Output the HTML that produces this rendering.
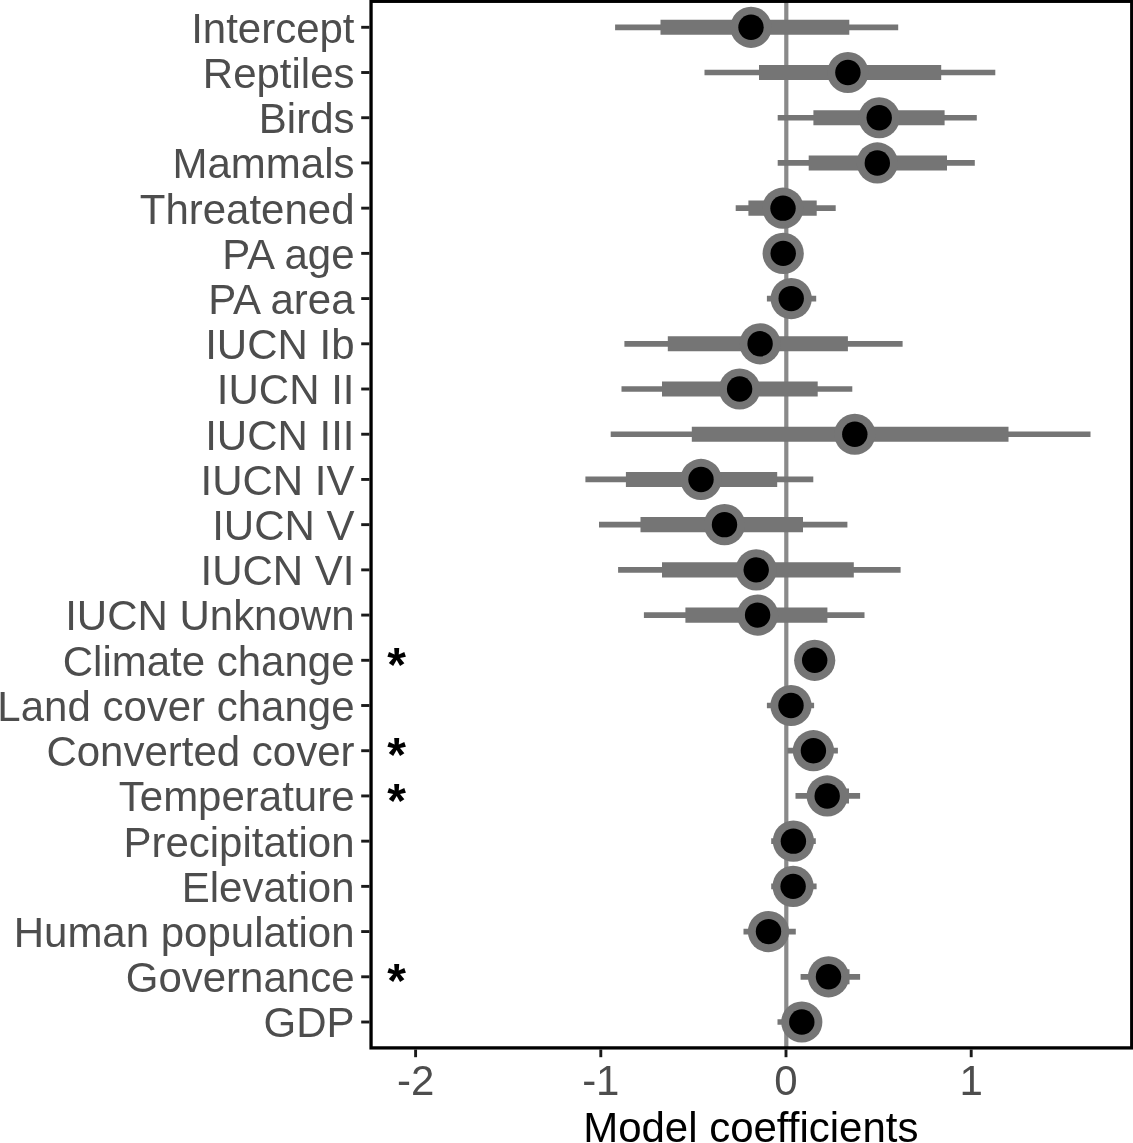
<!DOCTYPE html>
<html><head><meta charset="utf-8"><title>Model coefficients</title>
<style>
html,body{margin:0;padding:0;background:#fff;}
svg{display:block;}
text{font-family:"Liberation Sans",Arial,sans-serif;}
.yl{font-size:42px;fill:#4d4d4d;text-anchor:end;}
.xl{font-size:42px;fill:#4d4d4d;text-anchor:middle;}
.ttl{font-size:42px;fill:#000;text-anchor:middle;}
.star{font-size:48px;font-weight:bold;fill:#000;text-anchor:middle;}
</style></head><body>
<svg width="1133" height="1143" viewBox="0 0 1133 1143">
<rect x="0" y="0" width="1133" height="1143" fill="#fff"/>
<line x1="786.3" y1="1" x2="786.3" y2="1048" stroke="#8a8a8a" stroke-width="4.2"/>
<line x1="615.1" y1="27.30" x2="898.2" y2="27.30" stroke="#757575" stroke-width="5.7"/>
<line x1="660.5" y1="27.30" x2="849.3" y2="27.30" stroke="#757575" stroke-width="15.1"/>
<circle cx="751.0" cy="27.30" r="20.6" fill="#757575"/><circle cx="751.0" cy="27.30" r="12.7" fill="#000"/>
<line x1="704.5" y1="72.51" x2="995.3" y2="72.51" stroke="#757575" stroke-width="5.7"/>
<line x1="759.0" y1="72.51" x2="941.2" y2="72.51" stroke="#757575" stroke-width="15.1"/>
<circle cx="847.9" cy="72.51" r="20.6" fill="#757575"/><circle cx="847.9" cy="72.51" r="12.7" fill="#000"/>
<line x1="777.7" y1="117.73" x2="976.8" y2="117.73" stroke="#757575" stroke-width="5.7"/>
<line x1="813.4" y1="117.73" x2="944.6" y2="117.73" stroke="#757575" stroke-width="15.1"/>
<circle cx="879.2" cy="117.73" r="20.6" fill="#757575"/><circle cx="879.2" cy="117.73" r="12.7" fill="#000"/>
<line x1="777.7" y1="162.94" x2="974.8" y2="162.94" stroke="#757575" stroke-width="5.7"/>
<line x1="808.7" y1="162.94" x2="947" y2="162.94" stroke="#757575" stroke-width="15.1"/>
<circle cx="877.3" cy="162.94" r="20.6" fill="#757575"/><circle cx="877.3" cy="162.94" r="12.7" fill="#000"/>
<line x1="735.7" y1="208.16" x2="835.7" y2="208.16" stroke="#757575" stroke-width="5.7"/>
<line x1="748.4" y1="208.16" x2="816.7" y2="208.16" stroke="#757575" stroke-width="15.1"/>
<circle cx="783.0" cy="208.16" r="20.6" fill="#757575"/><circle cx="783.0" cy="208.16" r="12.7" fill="#000"/>
<circle cx="783.2" cy="253.37" r="20.6" fill="#757575"/><circle cx="783.2" cy="253.37" r="12.7" fill="#000"/>
<line x1="766.9" y1="298.58" x2="816.2" y2="298.58" stroke="#757575" stroke-width="5.7"/>
<circle cx="791.2" cy="298.58" r="20.6" fill="#757575"/><circle cx="791.2" cy="298.58" r="12.7" fill="#000"/>
<line x1="624.4" y1="343.80" x2="902.6" y2="343.80" stroke="#757575" stroke-width="5.7"/>
<line x1="667.8" y1="343.80" x2="847.9" y2="343.80" stroke="#757575" stroke-width="15.1"/>
<circle cx="760.1" cy="343.80" r="20.6" fill="#757575"/><circle cx="760.1" cy="343.80" r="12.7" fill="#000"/>
<line x1="621.5" y1="389.01" x2="852.3" y2="389.01" stroke="#757575" stroke-width="5.7"/>
<line x1="662" y1="389.01" x2="817.7" y2="389.01" stroke="#757575" stroke-width="15.1"/>
<circle cx="739.6" cy="389.01" r="20.6" fill="#757575"/><circle cx="739.6" cy="389.01" r="12.7" fill="#000"/>
<line x1="610.7" y1="434.23" x2="1090.5" y2="434.23" stroke="#757575" stroke-width="5.7"/>
<line x1="691.8" y1="434.23" x2="1008.5" y2="434.23" stroke="#757575" stroke-width="15.1"/>
<circle cx="854.8" cy="434.23" r="20.6" fill="#757575"/><circle cx="854.8" cy="434.23" r="12.7" fill="#000"/>
<line x1="585.4" y1="479.44" x2="813.3" y2="479.44" stroke="#757575" stroke-width="5.7"/>
<line x1="625.9" y1="479.44" x2="777.2" y2="479.44" stroke="#757575" stroke-width="15.1"/>
<circle cx="701" cy="479.44" r="20.6" fill="#757575"/><circle cx="701" cy="479.44" r="12.7" fill="#000"/>
<line x1="599" y1="524.65" x2="847.4" y2="524.65" stroke="#757575" stroke-width="5.7"/>
<line x1="640.5" y1="524.65" x2="803" y2="524.65" stroke="#757575" stroke-width="15.1"/>
<circle cx="724.5" cy="524.65" r="20.6" fill="#757575"/><circle cx="724.5" cy="524.65" r="12.7" fill="#000"/>
<line x1="618.1" y1="569.87" x2="900.6" y2="569.87" stroke="#757575" stroke-width="5.7"/>
<line x1="662" y1="569.87" x2="853.8" y2="569.87" stroke="#757575" stroke-width="15.1"/>
<circle cx="756.2" cy="569.87" r="20.6" fill="#757575"/><circle cx="756.2" cy="569.87" r="12.7" fill="#000"/>
<line x1="643.9" y1="615.08" x2="864.5" y2="615.08" stroke="#757575" stroke-width="5.7"/>
<line x1="685.4" y1="615.08" x2="827.4" y2="615.08" stroke="#757575" stroke-width="15.1"/>
<circle cx="757.6" cy="615.08" r="20.6" fill="#757575"/><circle cx="757.6" cy="615.08" r="12.7" fill="#000"/>
<circle cx="814.7" cy="660.30" r="20.6" fill="#757575"/><circle cx="814.7" cy="660.30" r="12.7" fill="#000"/>
<line x1="766.9" y1="705.51" x2="814.1" y2="705.51" stroke="#757575" stroke-width="5.7"/>
<circle cx="791.0" cy="705.51" r="20.6" fill="#757575"/><circle cx="791.0" cy="705.51" r="12.7" fill="#000"/>
<line x1="787.5" y1="750.72" x2="837.9" y2="750.72" stroke="#757575" stroke-width="5.7"/>
<circle cx="813.4" cy="750.72" r="20.6" fill="#757575"/><circle cx="813.4" cy="750.72" r="12.7" fill="#000"/>
<line x1="795.5" y1="795.94" x2="860.1" y2="795.94" stroke="#757575" stroke-width="5.7"/>
<line x1="808.5" y1="795.94" x2="849" y2="795.94" stroke="#757575" stroke-width="15.1"/>
<circle cx="827.2" cy="795.94" r="20.6" fill="#757575"/><circle cx="827.2" cy="795.94" r="12.7" fill="#000"/>
<line x1="771.2" y1="841.15" x2="815.8" y2="841.15" stroke="#757575" stroke-width="5.7"/>
<circle cx="793.4" cy="841.15" r="20.6" fill="#757575"/><circle cx="793.4" cy="841.15" r="12.7" fill="#000"/>
<line x1="771.2" y1="886.37" x2="816.6" y2="886.37" stroke="#757575" stroke-width="5.7"/>
<circle cx="793.1" cy="886.37" r="20.6" fill="#757575"/><circle cx="793.1" cy="886.37" r="12.7" fill="#000"/>
<line x1="743.5" y1="931.58" x2="795.8" y2="931.58" stroke="#757575" stroke-width="5.7"/>
<circle cx="768.5" cy="931.58" r="20.6" fill="#757575"/><circle cx="768.5" cy="931.58" r="12.7" fill="#000"/>
<line x1="800.6" y1="976.79" x2="860.1" y2="976.79" stroke="#757575" stroke-width="5.7"/>
<line x1="810" y1="976.79" x2="849.5" y2="976.79" stroke="#757575" stroke-width="15.1"/>
<circle cx="828.5" cy="976.79" r="20.6" fill="#757575"/><circle cx="828.5" cy="976.79" r="12.7" fill="#000"/>
<line x1="777.5" y1="1022.01" x2="822" y2="1022.01" stroke="#757575" stroke-width="5.7"/>
<circle cx="801.8" cy="1022.01" r="20.6" fill="#757575"/><circle cx="801.8" cy="1022.01" r="12.7" fill="#000"/>
<rect x="371.05" y="1.3" width="760.7" height="1046.6" fill="none" stroke="#000" stroke-width="3.3"/>
<line x1="361.2" y1="27.30" x2="369.5" y2="27.30" stroke="#1a1a1a" stroke-width="2.9"/>
<text class="yl" transform="translate(354.5 42.70) scale(1 1.02)">Intercept</text>
<line x1="361.2" y1="72.51" x2="369.5" y2="72.51" stroke="#1a1a1a" stroke-width="2.9"/>
<text class="yl" transform="translate(354.5 87.91) scale(1 1.02)">Reptiles</text>
<line x1="361.2" y1="117.73" x2="369.5" y2="117.73" stroke="#1a1a1a" stroke-width="2.9"/>
<text class="yl" transform="translate(354.5 133.13) scale(1 1.02)">Birds</text>
<line x1="361.2" y1="162.94" x2="369.5" y2="162.94" stroke="#1a1a1a" stroke-width="2.9"/>
<text class="yl" transform="translate(354.5 178.34) scale(1 1.02)">Mammals</text>
<line x1="361.2" y1="208.16" x2="369.5" y2="208.16" stroke="#1a1a1a" stroke-width="2.9"/>
<text class="yl" transform="translate(354.5 223.56) scale(1 1.02)">Threatened</text>
<line x1="361.2" y1="253.37" x2="369.5" y2="253.37" stroke="#1a1a1a" stroke-width="2.9"/>
<text class="yl" transform="translate(354.5 268.77) scale(1 1.02)">PA age</text>
<line x1="361.2" y1="298.58" x2="369.5" y2="298.58" stroke="#1a1a1a" stroke-width="2.9"/>
<text class="yl" transform="translate(354.5 313.98) scale(1 1.02)">PA area</text>
<line x1="361.2" y1="343.80" x2="369.5" y2="343.80" stroke="#1a1a1a" stroke-width="2.9"/>
<text class="yl" transform="translate(354.5 359.20) scale(1 1.02)">IUCN Ib</text>
<line x1="361.2" y1="389.01" x2="369.5" y2="389.01" stroke="#1a1a1a" stroke-width="2.9"/>
<text class="yl" transform="translate(354.5 404.41) scale(1 1.02)">IUCN II</text>
<line x1="361.2" y1="434.23" x2="369.5" y2="434.23" stroke="#1a1a1a" stroke-width="2.9"/>
<text class="yl" transform="translate(354.5 449.63) scale(1 1.02)">IUCN III</text>
<line x1="361.2" y1="479.44" x2="369.5" y2="479.44" stroke="#1a1a1a" stroke-width="2.9"/>
<text class="yl" transform="translate(354.5 494.84) scale(1 1.02)">IUCN IV</text>
<line x1="361.2" y1="524.65" x2="369.5" y2="524.65" stroke="#1a1a1a" stroke-width="2.9"/>
<text class="yl" transform="translate(354.5 540.05) scale(1 1.02)">IUCN V</text>
<line x1="361.2" y1="569.87" x2="369.5" y2="569.87" stroke="#1a1a1a" stroke-width="2.9"/>
<text class="yl" transform="translate(354.5 585.27) scale(1 1.02)">IUCN VI</text>
<line x1="361.2" y1="615.08" x2="369.5" y2="615.08" stroke="#1a1a1a" stroke-width="2.9"/>
<text class="yl" transform="translate(354.5 630.48) scale(1 1.02)">IUCN Unknown</text>
<line x1="361.2" y1="660.30" x2="369.5" y2="660.30" stroke="#1a1a1a" stroke-width="2.9"/>
<text class="yl" transform="translate(354.5 675.70) scale(1 1.02)">Climate change</text>
<line x1="361.2" y1="705.51" x2="369.5" y2="705.51" stroke="#1a1a1a" stroke-width="2.9"/>
<text class="yl" transform="translate(354.5 720.91) scale(1 1.02)">Land cover change</text>
<line x1="361.2" y1="750.72" x2="369.5" y2="750.72" stroke="#1a1a1a" stroke-width="2.9"/>
<text class="yl" transform="translate(354.5 766.12) scale(1 1.02)">Converted cover</text>
<line x1="361.2" y1="795.94" x2="369.5" y2="795.94" stroke="#1a1a1a" stroke-width="2.9"/>
<text class="yl" transform="translate(354.5 811.34) scale(1 1.02)">Temperature</text>
<line x1="361.2" y1="841.15" x2="369.5" y2="841.15" stroke="#1a1a1a" stroke-width="2.9"/>
<text class="yl" transform="translate(354.5 856.55) scale(1 1.02)">Precipitation</text>
<line x1="361.2" y1="886.37" x2="369.5" y2="886.37" stroke="#1a1a1a" stroke-width="2.9"/>
<text class="yl" transform="translate(354.5 901.77) scale(1 1.02)">Elevation</text>
<line x1="361.2" y1="931.58" x2="369.5" y2="931.58" stroke="#1a1a1a" stroke-width="2.9"/>
<text class="yl" transform="translate(354.5 946.98) scale(1 1.02)">Human population</text>
<line x1="361.2" y1="976.79" x2="369.5" y2="976.79" stroke="#1a1a1a" stroke-width="2.9"/>
<text class="yl" transform="translate(354.5 992.19) scale(1 1.02)">Governance</text>
<line x1="361.2" y1="1022.01" x2="369.5" y2="1022.01" stroke="#1a1a1a" stroke-width="2.9"/>
<text class="yl" transform="translate(354.5 1037.41) scale(1 1.02)">GDP</text>
<text class="star" x="396.7" y="680.90">*</text>
<text class="star" x="396.7" y="771.32">*</text>
<text class="star" x="396.7" y="816.54">*</text>
<text class="star" x="396.7" y="997.39">*</text>
<line x1="415.6" y1="1049.5" x2="415.6" y2="1057.2" stroke="#1a1a1a" stroke-width="2.9"/>
<text class="xl" transform="translate(415.6 1094.8) scale(1 1.02)">-2</text>
<line x1="600.8" y1="1049.5" x2="600.8" y2="1057.2" stroke="#1a1a1a" stroke-width="2.9"/>
<text class="xl" transform="translate(600.8 1094.8) scale(1 1.02)">-1</text>
<line x1="786.0" y1="1049.5" x2="786.0" y2="1057.2" stroke="#1a1a1a" stroke-width="2.9"/>
<text class="xl" transform="translate(786.0 1094.8) scale(1 1.02)">0</text>
<line x1="971.2" y1="1049.5" x2="971.2" y2="1057.2" stroke="#1a1a1a" stroke-width="2.9"/>
<text class="xl" transform="translate(971.2 1094.8) scale(1 1.02)">1</text>
<text class="ttl" transform="translate(750.8 1142.2) scale(1 1.02)">Model coefficients</text>
</svg></body></html>
